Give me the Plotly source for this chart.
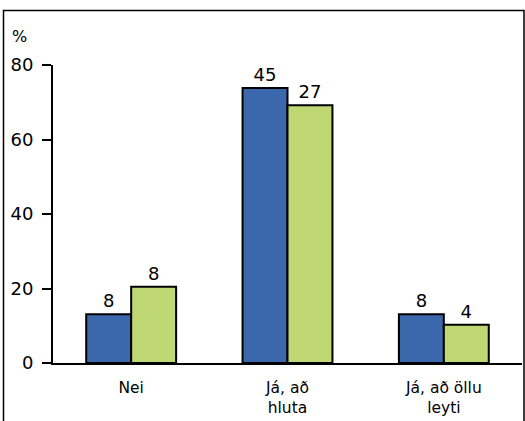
import plotly.graph_objects as go

categories = ["Nei", "Já, að<br>hluta", "Já, að öllu<br>leyti"]
blue_pct = [13.1, 73.8, 13.1]
green_pct = [20.5, 69.2, 10.3]
blue_counts = ["8", "45", "8"]
green_counts = ["8", "27", "4"]
y_ticks = [0, 20, 40, 60, 80]

BLUE = "#3b67ad"
GREEN = "#bfd873"
FONT = "DejaVu Sans"

fig = go.Figure()
fig.add_trace(go.Bar(
    x=categories, y=blue_pct, text=blue_counts, textposition="outside",
    textfont=dict(family=FONT, size=18, color="black"), cliponaxis=False,
    marker=dict(color=BLUE, line=dict(color="black", width=2)),
))
fig.add_trace(go.Bar(
    x=categories, y=green_pct, text=green_counts, textposition="outside",
    textfont=dict(family=FONT, size=18, color="black"), cliponaxis=False,
    marker=dict(color=GREEN, line=dict(color="black", width=2)),
))

L, R, T, B = 53, 3, 65, 58
W, H = 525, 421
pw = W - L - R
ph = H - T - B

def px(x):
    return (x - L) / pw

def py(y):
    return (H - B - y) / ph

fig.update_layout(
    width=W, height=H,
    margin=dict(l=L, r=R, t=T, b=B),
    paper_bgcolor="white", plot_bgcolor="white",
    barmode="group", bargap=0.425, bargroupgap=0,
    showlegend=False,
    font=dict(family=FONT, color="black"),
    xaxis=dict(
        showline=True, linecolor="black", linewidth=2,
        ticks="", tickfont=dict(family=FONT, size=15.5, color="black"),
        ticklabelstandoff=9, showgrid=False, zeroline=False,
    ),
    yaxis=dict(
        range=[0, 80], tickvals=y_ticks,
        showline=True, linecolor="black", linewidth=2,
        ticks="outside", ticklen=9, tickwidth=2, tickcolor="black",
        tickfont=dict(family=FONT, size=18, color="black"),
        ticklabelstandoff=5,
        showgrid=False, zeroline=False,
    ),
    shapes=[dict(
        type="rect", xref="paper", yref="paper",
        x0=px(3.5), x1=px(524), y0=py(440), y1=py(10.5),
        line=dict(color="black", width=1.5), fillcolor="rgba(0,0,0,0)",
        layer="below",
    )],
    annotations=[dict(
        text="%", xref="paper", yref="paper",
        x=px(10), y=py(37), xanchor="left", yanchor="middle",
        showarrow=False, font=dict(family=FONT, size=16, color="black"),
    )],
)

fig.write_html("out.html")
